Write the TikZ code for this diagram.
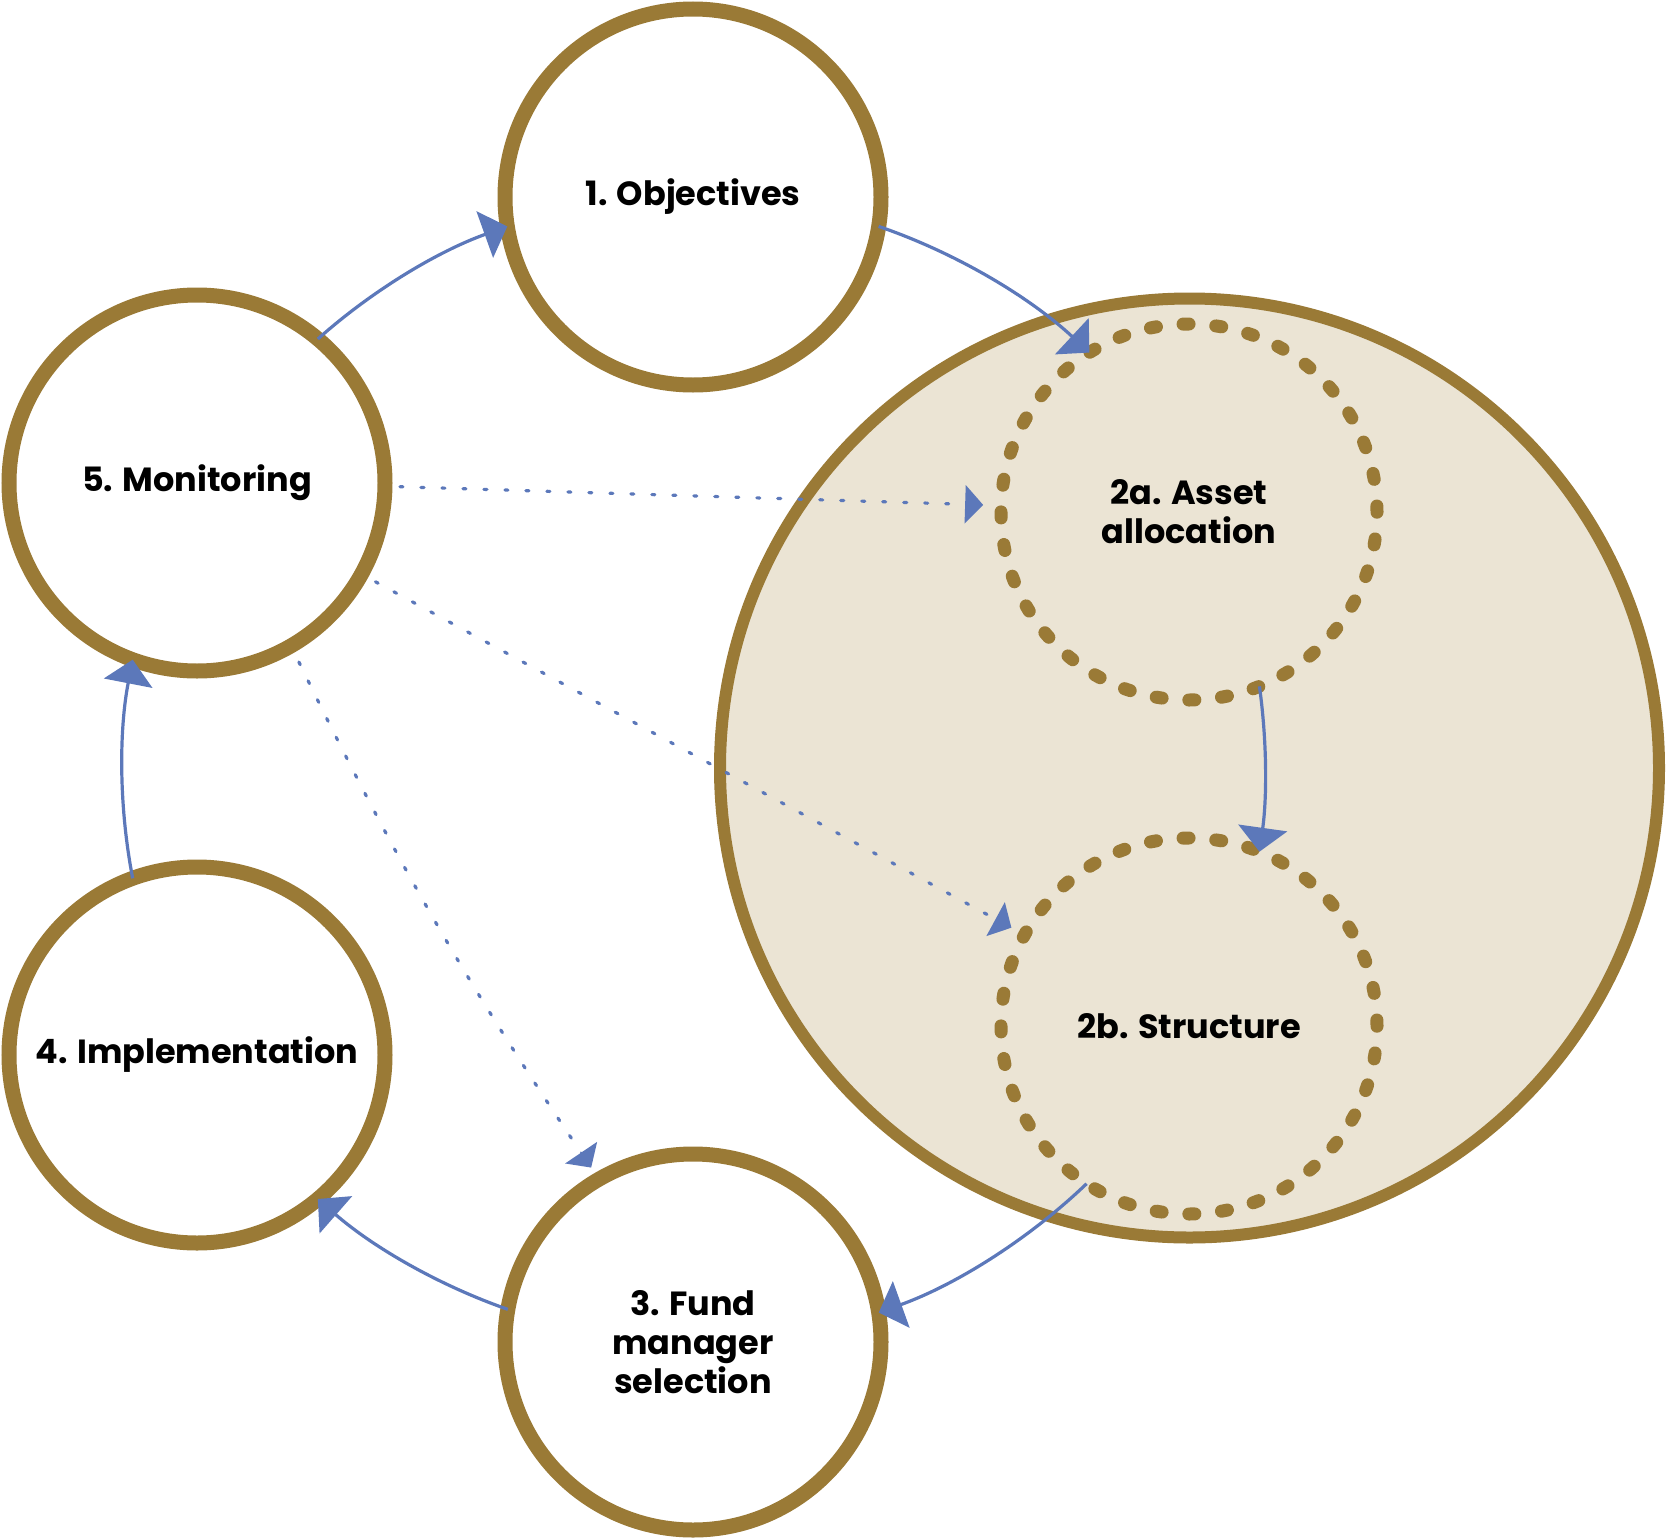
\documentclass[tikz,border=0pt]{standalone}
\usepackage{fontspec}
\setmainfont{Poppins}
\usetikzlibrary{arrows.meta}
\definecolor{gold}{RGB}{154,122,54}
\definecolor{beige}{RGB}{235,228,212}
\definecolor{flow}{RGB}{92,120,186}
\begin{document}
\begin{tikzpicture}[x=1pt,y=-1pt,
  lbl/.style={font=\bfseries\fontsize{33.5}{39}\selectfont, align=center, text=black},
  stage/.style={circle, draw=gold, line width=15pt, fill=white, minimum size=376pt, inner sep=0pt, outer sep=0pt, lbl},
  group/.style={circle, draw=gold, line width=12pt, fill=beige, minimum size=939pt, inner sep=0pt, outer sep=0pt},
  substage/.style={circle, draw=gold, line width=13pt, line cap=round, dash pattern=on 6pt off 26.81pt, minimum size=376pt, inner sep=0pt, outer sep=0pt, lbl},
  flowarrow/.style={draw=flow, line width=3.2pt, -{Triangle[length=24pt,width=49pt]}, bend left=11, looseness=0.85},
  hint/.style={draw=flow, line width=3.2pt, line cap=round, dash pattern=on 3pt off 18pt, -{Triangle[length=18pt,width=38pt]}}
]
\useasboundingbox (0,0) rectangle (1666,1539);
\node[group] (grp) at (1189.5,768) {};
\node[substage] (sa) at (1189,512) {2a. Asset\\allocation};
\node[substage] (sb) at (1189,1026) {2b. Structure};
\node[stage] (obj) at (693,197) {1. Objectives};
\node[stage] (mon) at (197,483) {5. Monitoring};
\node[stage] (impl) at (197,1055) {4. Implementation};
\node[stage] (fund) at (693,1342) {3. Fund\\manager\\selection};
% main cycle
\draw[flowarrow] (mon.50.5) to (obj.189.5);
\draw[flowarrow, bend left=12] (obj.-9.5) to (sa.122.5);
\draw[flowarrow, bend left=8] (sa.-68) to (sb.68);
\draw[flowarrow, bend left=12] (sb.-123.5) to (fund.9.5);
\draw[flowarrow] (fund.170.5) to (impl.-50.5);
\draw[flowarrow] (impl.110.5) to (mon.-110.5);
% monitoring feedback
\draw[hint, shorten <=15pt, shorten >=18pt] (mon.-1.4) -- (sa.178);
\draw[hint, shorten <=16pt, shorten >=15pt] (mon.-29) -- (sb.151);
\draw[hint, shorten <=18pt, shorten >=14pt] (mon.-60.7) to[bend right=4] (fund.120);
\end{tikzpicture}
\end{document}
